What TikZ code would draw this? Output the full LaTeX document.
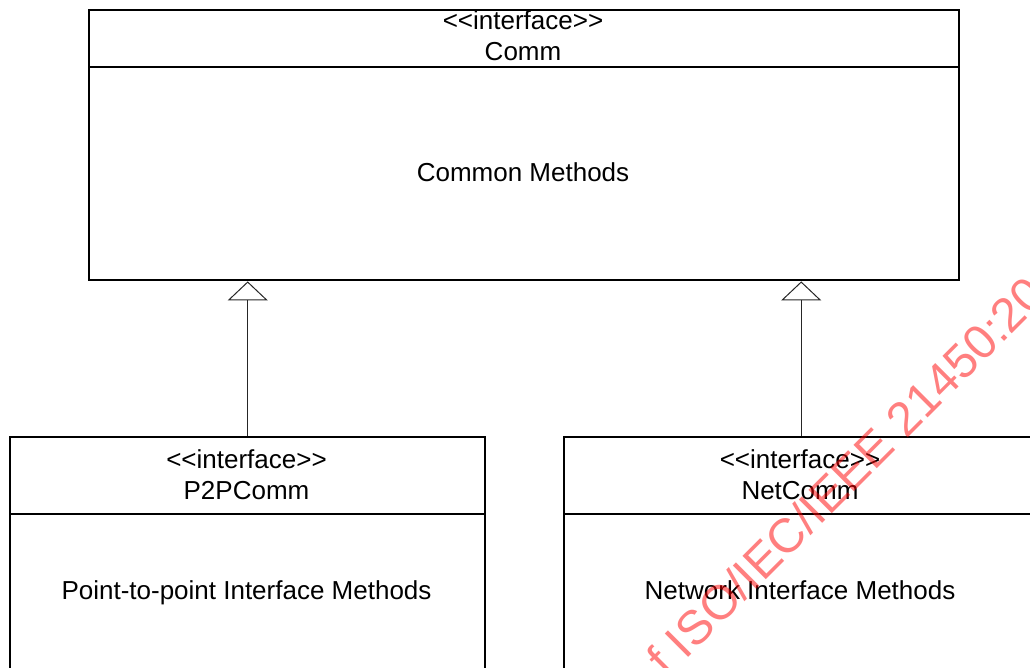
\documentclass[tikz,border=0pt]{standalone}
\usepackage{fontspec}
\setmainfont{Liberation Sans}
\usetikzlibrary{arrows.meta}
% guillemet-free stereotype brackets
\newcommand{\stereo}[1]{<\kern0pt<#1>\kern0pt>}
\begin{document}
\begin{tikzpicture}[x=1pt,y=1pt,
  umlbox/.style={draw=black, line width=2.4pt, rectangle, inner sep=0pt, anchor=north west},
  divider/.style={draw=black, line width=2.4pt},
  umltext/.style={font=\fontsize{26}{31}\selectfont, align=center, inner sep=0pt},
  bodytext/.style={umltext, anchor=base},
  realize/.style={draw=black!85, line width=1pt,
    -{Triangle[open, length=19pt, width=40pt, line width=1pt]}},
  watermark/.style={font=\fontsize{48}{48}\selectfont, text=red, opacity=0.5,
    rotate=45, anchor=base west, inner sep=0pt}]
\useasboundingbox (0,0) rectangle (1030,668);
\clip (0,0) rectangle (1030,668);

% Comm interface
\node[umlbox, minimum width=870pt, minimum height=270pt] (comm) at (88,659) {};
\draw[divider] ([yshift=-58pt]comm.north west) -- ([yshift=-58pt]comm.north east);
\node[umltext] (commhead) at (523,632) {\stereo{interface}\\Comm};
\node[bodytext] (commbody) at (523,486) {Common Methods};

% P2PComm interface
\node[umlbox, minimum width=475pt, minimum height=232pt] (p2p) at (9,232) {};
\draw[divider] ([yshift=-78pt]p2p.north west) -- ([yshift=-78pt]p2p.north east);
\node[umltext] (p2phead) at (246.5,193) {\stereo{interface}\\P2PComm};
\node[bodytext] (p2pbody) at (246.5,68.7) {Point-to-point Interface Methods};

% NetComm interface
\node[umlbox, minimum width=474pt, minimum height=232pt] (net) at (563,232) {};
\draw[divider] ([yshift=-78pt]net.north west) -- ([yshift=-78pt]net.north east);
\node[umltext] (nethead) at (800,193) {\stereo{interface}\\NetComm};
\node[bodytext] (netbody) at (800,68.7) {Network Interface Methods};

% realization arrows
\draw[realize] (p2p.north) -- (p2p.north |- comm.south);
\draw[realize] (net.north) -- (net.north |- comm.south);

% watermark
\node[watermark] (wm) at (667,-11) {f ISO/IEC/IEEE 21450:2010};
\end{tikzpicture}
\end{document}
